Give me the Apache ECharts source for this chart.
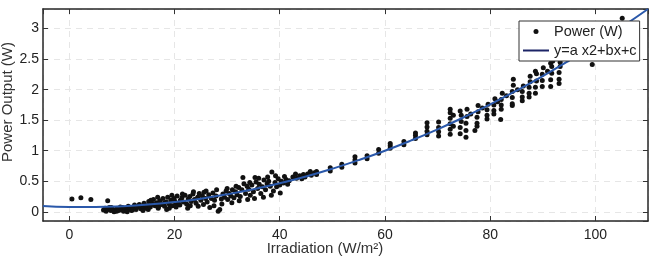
<!DOCTYPE html>
<html>
<head>
<meta charset="utf-8">
<script src="https://cdn.jsdelivr.net/npm/echarts@6/dist/echarts.min.js"></script>
<style>
  html, body { margin: 0; padding: 0; background: #fff; }
  #graph { width: 651px; height: 258px; }
</style>
</head>
<body>
<div id="graph"></div>
<script>
// measured points [irradiation, power]
var lowIsolated = [[0.5, 0.21], [2.2, 0.23], [4.1, 0.2], [7.3, 0.18]];

var dimBand = [
  [6.5, 0.03], [6.8, 0.06], [7.0, 0.01], [7.1, 0.05], [7.3, 0.04], [7.6, 0.07], [7.9, 0.02], [8.0, 0.07],
  [8.2, 0.05], [8.5, 0.0], [8.8, 0.03], [9.0, 0.01], [9.1, 0.06], [9.4, 0.02], [9.7, 0.08], [10.0, 0.04],
  [10.1, 0.07], [10.3, 0.01], [10.6, 0.06], [10.9, 0.03], [11.0, 0.0], [11.2, 0.09], [11.5, 0.05], [11.8, 0.02],
  [12.0, 0.03], [12.1, 0.07], [12.4, 0.11], [12.7, 0.04], [13.0, 0.08], [13.3, 0.12], [13.6, 0.05], [13.9, 0.09]
];

var risingBand = [
  [14.2, 0.14], [14.5, 0.06], [14.8, 0.1], [15.0, 0.04], [15.1, 0.17], [15.4, 0.08], [15.7, 0.13], [16.0, 0.2],
  [16.0, 0.12], [16.3, 0.1], [16.6, 0.15], [16.9, 0.06], [17.0, 0.09], [17.2, 0.18], [17.5, 0.12], [17.8, 0.22],
  [18.0, 0.14], [18.1, 0.09], [18.4, 0.16], [18.7, 0.24], [19.0, 0.13], [19.0, 0.06], [19.3, 0.19], [19.6, 0.1],
  [19.9, 0.22], [20.0, 0.18], [20.2, 0.15], [20.5, 0.26], [20.8, 0.12], [21.0, 0.11], [21.1, 0.19], [21.4, 0.23],
  [21.7, 0.16], [22.0, 0.27], [22.3, 0.13], [22.6, 0.21], [22.9, 0.25], [23.0, 0.1], [23.2, 0.17], [23.5, 0.29],
  [23.8, 0.2], [24.1, 0.14], [24.4, 0.24], [24.7, 0.3], [25.0, 0.19], [25.3, 0.26], [25.6, 0.32], [25.9, 0.22],
  [26.2, 0.16], [26.5, 0.28], [26.7, 0.07], [27.0, 0.22], [27.3, 0.31], [27.6, 0.19], [27.9, 0.26], [28.3, 0.01],
  [28.6, 0.04], [28.9, 0.21], [29.2, 0.29], [29.5, 0.24], [29.8, 0.34], [30.1, 0.2], [30.4, 0.3], [30.7, 0.26],
  [31.0, 0.36], [31.3, 0.23], [31.6, 0.33], [31.9, 0.28], [32.2, 0.4], [32.5, 0.25], [32.8, 0.36], [33.0, 0.56],
  [33.2, 0.46], [33.5, 0.3], [33.8, 0.42], [34.1, 0.37], [34.4, 0.27], [34.7, 0.44], [35.0, 0.33], [35.3, 0.56],
  [35.5, 0.49], [35.8, 0.38], [36.1, 0.45], [36.4, 0.3], [36.7, 0.41], [37.0, 0.52], [37.3, 0.36], [37.6, 0.46],
  [37.9, 0.5], [38.2, 0.42], [38.5, 0.65], [38.8, 0.34], [39.1, 0.48], [39.4, 0.41], [39.7, 0.54], [40.0, 0.44],
  [40.3, 0.5], [40.7, 0.47], [41.2, 0.53], [41.8, 0.51], [42.5, 0.57], [43.2, 0.55], [43.8, 0.59], [44.5, 0.61],
  [44.8, 0.57], [45.3, 0.62], [46.0, 0.6], [46.6, 0.64]
];

var bandEdges = [
  [14.0, 0.02], [15.5, 0.19], [16.8, 0.24], [18.5, 0.04], [19.5, 0.27], [20.3, 0.08], [21.5, 0.29], [22.5, 0.06],
  [23.6, 0.33], [24.5, 0.09], [25.5, 0.12], [26.0, 0.34], [27.5, 0.1], [28.0, 0.36], [29.0, 0.13], [30.0, 0.38],
  [30.9, 0.15], [31.7, 0.42], [32.3, 0.18], [33.9, 0.2], [34.3, 0.48], [35.2, 0.22], [36.0, 0.55], [36.9, 0.24],
  [37.7, 0.57], [38.4, 0.27], [39.2, 0.59], [40.1, 0.31], [40.9, 0.58], [41.5, 0.45], [43.0, 0.62], [44.2, 0.54],
  [45.8, 0.66]
];

var midStreaks = [
  [47.0, 0.61], [47.0, 0.66], [49.6, 0.67], [49.6, 0.72], [51.8, 0.73], [51.8, 0.78],
  [54.3, 0.8], [54.3, 0.85], [54.3, 0.9], [56.6, 0.87], [56.6, 0.92], [58.8, 0.96], [58.8, 1.02],
  [61.0, 1.04], [61.0, 1.08], [61.0, 1.12], [63.6, 1.1], [63.6, 1.15],
  [65.8, 1.2], [65.8, 1.25], [65.8, 1.29], [68.0, 1.26], [68.0, 1.32], [68.0, 1.39], [68.0, 1.46],
  [70.2, 1.24], [70.2, 1.31], [70.2, 1.38], [70.2, 1.47]
];

var highStreaks = [
  [72.4, 1.27], [72.4, 1.35], [72.4, 1.44], [72.4, 1.53], [72.4, 1.62], [72.4, 1.68], [73.0, 1.4], [73.0, 1.58],
  [74.3, 1.28], [74.3, 1.38], [74.5, 1.48], [74.5, 1.58], [74.3, 1.65], [75.4, 1.22], [75.4, 1.33], [75.4, 1.45],
  [75.6, 1.56], [75.6, 1.68], [76.3, 1.6], [77.5, 1.4], [77.5, 1.45], [77.5, 1.55], [77.7, 1.64], [77.7, 1.74],
  [78.5, 1.7], [79.4, 1.52], [79.4, 1.58], [79.4, 1.67], [79.6, 1.76], [80.7, 1.6], [80.7, 1.66], [80.7, 1.75],
  [80.9, 1.85], [81.4, 1.8], [82.1, 1.68], [82.1, 1.75], [82.1, 1.84], [82.3, 1.94], [83.1, 1.9],
  [84.2, 1.74], [84.2, 1.77], [84.2, 1.87], [84.2, 1.97], [84.4, 2.07], [84.4, 2.17], [85.2, 2.0],
  [86.1, 1.82], [86.1, 1.88], [86.1, 1.97], [86.3, 2.06], [87.4, 1.88], [87.4, 1.94], [87.4, 2.04], [87.6, 2.13],
  [87.6, 2.22], [88.6, 1.94], [88.6, 2.04], [88.8, 2.14], [88.8, 2.26], [88.6, 2.3], [89.9, 2.05], [89.9, 2.15],
  [89.9, 2.25], [90.1, 2.36], [90.9, 2.3], [91.5, 2.05], [91.5, 2.16], [91.7, 2.27], [91.7, 2.38], [91.5, 2.43],
  [91.9, 2.47], [93.1, 2.1], [93.1, 2.17], [93.1, 2.28], [93.3, 2.38], [93.3, 2.45]
];

var outliers = [[77.1, 1.33], [82.0, 1.51], [99.4, 2.41], [105.1, 3.17]];

// fitted curve y = a x2 + bx + c
var fitIrr = [-5, 0, 5, 10, 15, 20, 25, 30, 35, 40, 45, 50, 55, 60, 65, 70, 75, 80, 85, 90, 95, 100, 105, 110];
var fitPower = [0.095, 0.08, 0.079, 0.092, 0.119, 0.161, 0.216, 0.286, 0.37, 0.467, 0.579, 0.706,
  0.846, 1.0, 1.169, 1.351, 1.548, 1.758, 1.983, 2.222, 2.476, 2.743, 3.024, 3.32];

var FONT = "'Liberation Sans', Arial, sans-serif";
var scatterPts = [].concat(lowIsolated, dimBand, risingBand, bandEdges, midStreaks, highStreaks, outliers);
var fitPts = fitIrr.map(function (x, i) { return [x, fitPower[i]]; });

var frame = { show: true, onZero: false, lineStyle: { color: '#262626', width: 1.5 } };
var ticks = { show: true, inside: true, length: 5, lineStyle: { color: '#333', width: 1 } };
var grid = { show: true, lineStyle: { color: '#e6e6e6', type: [6, 5], width: 1 } };

var myChart = echarts.init(document.getElementById('graph'), null, { renderer: 'canvas' });
myChart.setOption({
  animation: false,
  backgroundColor: '#fff',
  grid: { left: 43, right: 3, top: 9, bottom: 37, outerBoundsMode: 'none', containLabel: false },
  legend: {
    orient: 'vertical',
    left: 519, top: 21,
    backgroundColor: '#fff',
    borderColor: '#333', borderWidth: 1,
    padding: [3, 3, 3, 4],
    itemGap: 4,
    itemWidth: 26, itemHeight: 5,
    textStyle: { fontFamily: FONT, fontSize: 14.5, color: '#222' },
    data: [
      { name: 'Power (W)', icon: 'circle', itemStyle: { color: '#111' } },
      { name: 'y=a x2+bx+c', icon: 'path://M0,0 L26,0 L26,2 L0,2 Z', itemStyle: { color: '#1c2466' } }
    ]
  },
  xAxis: [{
    type: 'value', min: -5, max: 110, splitNumber: 6, position: 'bottom',
    axisLine: frame, axisTick: ticks, splitLine: grid,
    axisLabel: { showMinLabel: false, showMaxLabel: false, margin: 7, color: '#222', fontSize: 14, fontFamily: FONT },
    name: 'Irradiation (W/m²)', nameLocation: 'middle', nameGap: 20, nameMoveOverlap: false,
    nameTextStyle: { fontFamily: FONT, fontSize: 15, color: '#333', padding: [0, 41, 0, 0] }
  }, {
    type: 'value', min: -5, max: 110, splitNumber: 6, position: 'top',
    axisLine: frame, axisTick: ticks, splitLine: { show: false }, axisLabel: { show: false }
  }],
  yAxis: [{
    type: 'value', min: -0.15, max: 3.32, splitNumber: 7, position: 'left',
    axisLine: frame, axisTick: ticks, splitLine: grid,
    axisLabel: { showMinLabel: false, showMaxLabel: false, margin: 4, color: '#222', fontSize: 14, fontFamily: FONT },
    name: 'Power Output (W)', nameLocation: 'middle', nameGap: 28, nameMoveOverlap: false,
    nameTextStyle: { fontFamily: FONT, fontSize: 15, color: '#333', padding: [0, 0, 0, 26] }
  }, {
    type: 'value', min: -0.15, max: 3.32, splitNumber: 7, position: 'right',
    axisLine: frame, axisTick: ticks, splitLine: { show: false }, axisLabel: { show: false }
  }],
  series: [{
    name: 'Power (W)',
    type: 'scatter',
    data: scatterPts,
    symbolSize: 5,
    itemStyle: { color: '#111', opacity: 1 }
  }, {
    name: 'y=a x2+bx+c',
    type: 'line',
    data: fitPts,
    smooth: true,
    symbol: 'none',
    lineStyle: { color: '#2a58aa', width: 2 },
    itemStyle: { color: '#2a58aa' }
  }]
});
</script>
</body>
</html>
